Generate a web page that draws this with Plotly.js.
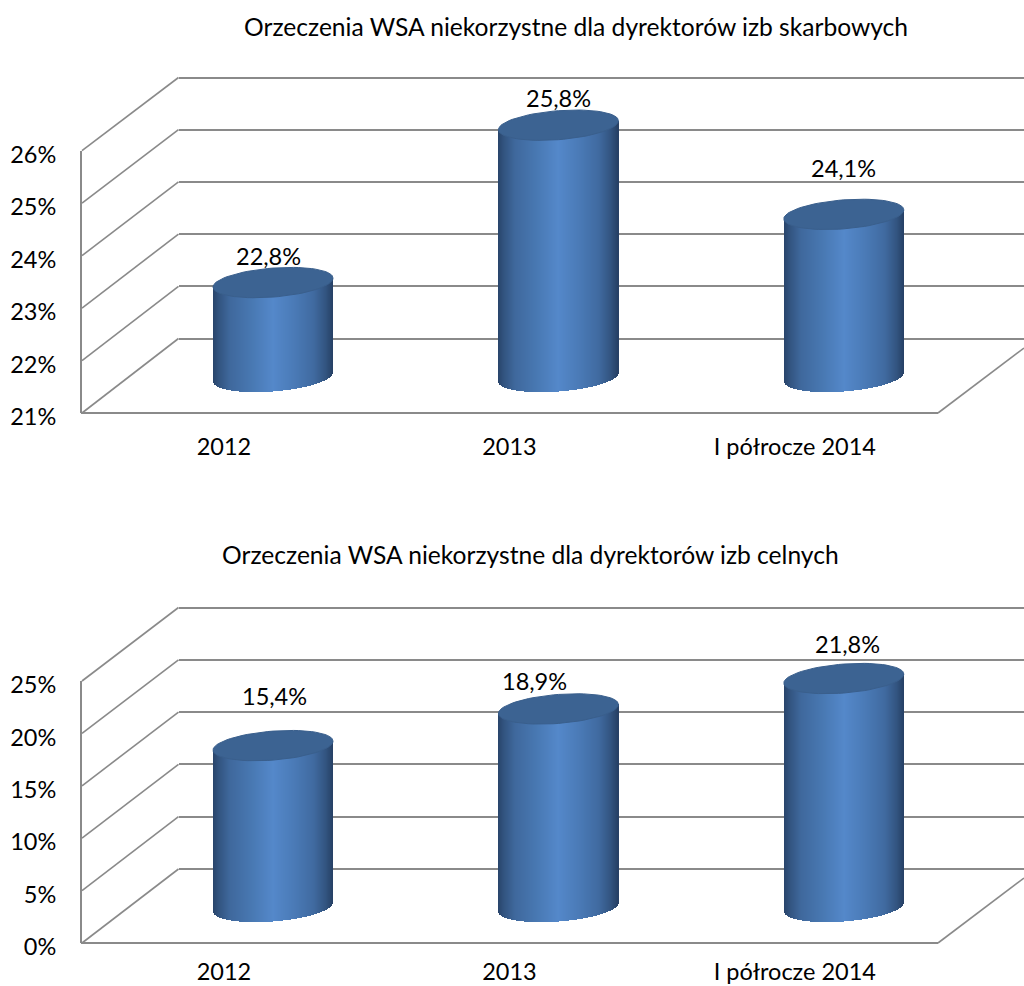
<!DOCTYPE html>
<html><head><meta charset="utf-8"><script src="https://cdn.plot.ly/plotly-3.0.0.min.js"></script>
<style>html,body{margin:0;padding:0;background:#fff}</style></head><body><div id="c" style="width:1024px;height:986px"></div>
<script>
const categories = ["2012", "2013", "I półrocze 2014"];
const titleA = "Orzeczenia WSA niekorzystne dla dyrektorów izb skarbowych";
const titleB = "Orzeczenia WSA niekorzystne dla dyrektorów izb celnych";
const valuesA = [22.8, 25.8, 24.1];
const valuesB = [15.4, 18.9, 21.8];
const ticksA = [21, 22, 23, 24, 25, 26];
const ticksB = [0, 5, 10, 15, 20, 25];

const W = 1024, H = 986, FONT = "Lato, Carlito, sans-serif", FS = 23.5, GRAY = "#8a8a8a";
const labelOffA = [[-5, 27], [0, 27], [0, 46]];
const labelOffB = [[1, 50], [-24, 28], [4, 35]];
const stops = [[0,[40,68,106]],[0.05,[50,84,128]],[0.14,[63,104,156]],[0.32,[72,120,178]],[0.5,[84,136,202]],[0.68,[74,122,182]],[0.84,[64,106,160]],[0.94,[50,84,128]],[1,[38,64,100]]];
function grad(u){ for(let i=1;i<stops.length;i++){ if(u<=stops[i][0]){ const a=stops[i-1],b=stops[i],t=(u-a[0])/(b[0]-a[0]); return "rgb("+a[1].map((c,k)=>Math.round(c+(b[1][k]-c)*t)).join(",")+")"; } } return "rgb(38,64,100)"; }

const layout = {width:W,height:H,margin:{l:0,r:0,t:0,b:0},paper_bgcolor:"#fff",plot_bgcolor:"rgba(0,0,0,0)",showlegend:false,barmode:"overlay",bargap:0,shapes:[],annotations:[],font:{family:FONT,size:FS,color:"#000"}};
const traces = [];
const dom = (a,b)=>[a/W,b/W];
const vdom = (bot,top)=>[(H-bot)/H,(H-top)/H];
const XSP = 285.4, BAR0 = 273, LAB0 = 224, A = 60, BPX = 14.5, SL = 4.5/60;

function chart(n, ticks, values, frontBot, frontTop, backBot, backTop, midBot, title, titleX, titleY, labelOff, catTickLen){
  const unit = (frontBot-frontTop)/(ticks[ticks.length-1]-ticks[0]);
  const step = ticks[1]-ticks[0];
  const t0 = ticks[0], tN = ticks[ticks.length-1];
  const id = k => (n+k)===1 ? "" : String(n+k);
  const backStep = (backBot-backTop)/(ticks.length-1);
  // back wall: real gridlines (range padded one step so the end lines are kept)
  layout["xaxis"+id(0)] = {domain:dom(178.5,W),range:[0,1],anchor:"y"+id(0),showticklabels:false,showgrid:false,zeroline:false,showline:false,ticks:""};
  layout["yaxis"+id(0)] = {domain:vdom(backBot+backStep,backTop-backStep),range:[t0-step,tN+step],anchor:"x"+id(0),tickvals:ticks,showticklabels:false,showgrid:true,gridcolor:GRAY,gridwidth:2,zeroline:false,showline:false,ticks:""};
  // front plane: tick labels
  layout["xaxis"+id(1)] = {domain:dom(82,W),range:[(82-LAB0)/XSP,(W-LAB0)/XSP],anchor:"y"+id(1),tickvals:[0,1,2],ticktext:categories,showgrid:false,zeroline:false,showline:false,ticks:"outside",ticklen:catTickLen,tickcolor:"rgba(0,0,0,0)",tickfont:{family:FONT,size:FS,color:"#000"}};
  layout["yaxis"+id(1)] = {domain:vdom(frontBot,frontTop),range:[t0,tN],anchor:"x"+id(1),tickvals:ticks,ticktext:ticks.map(t=>t+"%"),ticklabelshift:4,showgrid:false,zeroline:false,showline:true,linecolor:GRAY,linewidth:2,ticks:"outside",ticklen:19,tickcolor:"rgba(0,0,0,0)",tickfont:{family:FONT,size:FS,color:"#000"}};
  // bar plane
  const yLo = t0-step, yHi = t0+step*7;
  layout["xaxis"+id(2)] = {domain:[0,1],range:[-BAR0/XSP,(W-BAR0)/XSP],anchor:"y"+id(2),visible:false};
  layout["yaxis"+id(2)] = {domain:vdom(midBot+step*unit,midBot-7*step*unit),range:[yLo,yHi],anchor:"x"+id(2),visible:false};

  const px = v => frontBot-(v-t0)*unit;
  ticks.forEach((t,i)=>{ const f=px(t), b=backBot-backStep*i;
    layout.shapes.push({type:"line",xref:"paper",yref:"paper",layer:"below",x0:82/W,x1:178.5/W,y0:(H-f)/H,y1:(H-b)/H,line:{color:GRAY,width:1.6}}); });
  layout.shapes.push({type:"line",xref:"paper",yref:"paper",layer:"below",x0:81/W,x1:938/W,y0:(H-frontBot)/H,y1:(H-frontBot)/H,line:{color:GRAY,width:2}});
  layout.shapes.push({type:"line",xref:"paper",yref:"paper",layer:"below",x0:938/W,x1:W/W,y0:(H-frontBot)/H,y1:(H-frontBot+(W-938)*0.755)/H,line:{color:GRAY,width:1.6}});

  const xa = "x"+id(2), ya = "y"+id(2);
  // spacer traces keep the wall and front subplots alive
  traces.push({type:"scatter",x:[],y:[],xaxis:"x"+id(0),yaxis:"y"+id(0),hoverinfo:"skip"});
  traces.push({type:"scatter",x:[],y:[],xaxis:"x"+id(1),yaxis:"y"+id(1),hoverinfo:"skip"});

  const a = A/XSP, b = BPX/unit, s = SL*XSP/unit; // value change per category unit
  const xs=[],bs=[],hs=[],cs=[],ws=[];
  values.forEach((v,i)=>{
    for(let p=-A;p<A;p+=1){
      const dx=(p+0.5)/XSP, k=(p+0.5)/A;
      const bot=t0 + s*dx - b*Math.sqrt(1-k*k);
      const top=v + s*dx;
      xs.push(i+dx); bs.push(bot); hs.push(top-bot); cs.push(grad((p+A+0.5)/(2*A))); ws.push(1.2/XSP);
    }
  });
  traces.push({type:"bar",x:xs,y:hs,base:bs,width:ws,xaxis:xa,yaxis:ya,marker:{color:cs,line:{width:0}},hoverinfo:"skip"});
  values.forEach((v,i)=>{
    const ex=[],ey=[];
    for(let d=0;d<=72;d++){ const th=d/72*2*Math.PI; const dx=a*Math.cos(th); ex.push(i+dx); ey.push(v+s*dx+b*Math.sin(th)); }
    traces.push({type:"scatter",mode:"lines",x:ex,y:ey,xaxis:xa,yaxis:ya,fill:"toself",fillcolor:"#3c6392",line:{color:"#3a5f8c",width:1},hoverinfo:"skip"});
    layout.annotations.push({xref:xa,yref:ya,x:i,y:v,xshift:labelOff[i][0],yshift:labelOff[i][1],showarrow:false,text:v.toFixed(1).replace(".",",")+"%",font:{family:FONT,size:FS,color:"#000"}});
  });
  layout.annotations.push({xref:"paper",yref:"paper",x:titleX/W,y:(H-titleY)/H,yanchor:"middle",xanchor:"center",showarrow:false,text:title,font:{family:FONT,size:24.6,color:"#000"}});
}
chart(1,ticksA,valuesA,413,150.7,338.5,77.5,377,titleA,576,26,labelOffA,13);
chart(4,ticksB,valuesB,943,681,869,607.5,907,titleB,530,554,labelOffB,8);
Plotly.newPlot("c",traces,layout,{displayModeBar:false,staticPlot:true});
</script></body></html>
